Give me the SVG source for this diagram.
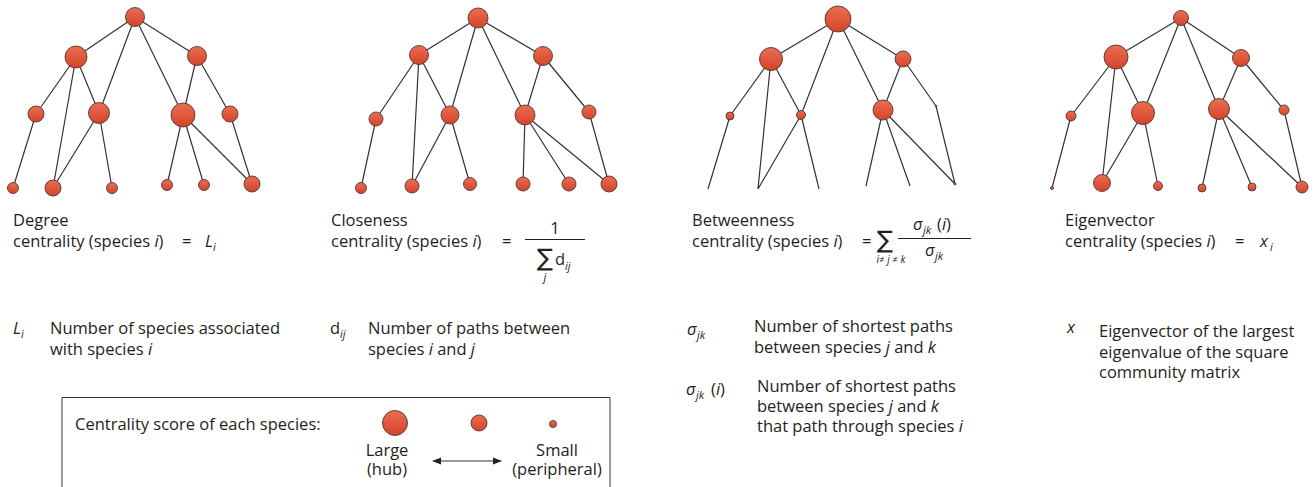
<svg xmlns="http://www.w3.org/2000/svg" width="1314" height="487" viewBox="0 0 1314 487">
<defs>
<linearGradient id="ng" x1="0" y1="0" x2="0" y2="1">
<stop offset="0" stop-color="#ea6e52"/>
<stop offset="1" stop-color="#d5432a"/>
</linearGradient>
<marker id="ah" viewBox="0 0 10 10" refX="9" refY="5" markerWidth="9" markerHeight="9" markerUnits="userSpaceOnUse" orient="auto-start-reverse">
<path d="M0,1 L10,5 L0,9 z" fill="#222"/>
</marker>
<style>
.n{fill:url(#ng);stroke:#4e3a33;stroke-width:0.9}
.e{stroke:#333;stroke-width:1.2;fill:none}
.t{font-family:"Open Sans","Liberation Sans",sans-serif;font-size:16.5px;fill:#231f20}
.i{font-style:italic}
.s{font-size:11px}
.sum{font-family:"DejaVu Sans","Liberation Sans",sans-serif;font-size:24px;fill:#231f20;font-weight:normal}
</style>
</defs>
<rect width="1314" height="487" fill="#fff"/>
<g id="connectors">
<!-- tree 1 -->
<path class="e" d="M135,17L76,57M135,17L197,56M135,17L99,113M135,17L183,115M76,57L36,114M76,57L53,188M76,57L99,113M197,56L183,115M197,56L230,114M36,114L13,188M99,113L53,188M99,113L112,188M183,115L167,185M183,115L204,185M183,115L252,184M230,114L252,184"/>
<!-- tree 2 -->
<path class="e" d="M478,18L419,55M478,18L543,56M478,18L450,115M478,18L525,115M419,55L376,119M419,55L412,186M419,55L450,115M543,56L525,115M543,56L589,112M376,119L361,188M450,115L412,186M450,115L470,184M525,115L523,184M525,115L569,184M525,115L609,184M589,112L609,184"/>
<!-- tree 3 -->
<path class="e" d="M838,19L771,59M838,19L903,59M838,19L801,115M838,19L883,110M771,59L730,116M771,59L758,189M771,59L801,115M903,59L883,110M903,59L936,106M730,116L708,189M801,115L758,189M801,115L819,189M883,110L866,186M883,110L910,186M883,110L955,184M936,106L955,184"/>
<!-- tree 4 -->
<path class="e" d="M1181,18L1116,57M1181,18L1241,58M1181,18L1143,113M1181,18L1219,109M1116,57L1071,116M1116,57L1102,183M1116,57L1143,113M1241,58L1219,109M1241,58L1284,110M1071,116L1052,188M1143,113L1102,183M1143,113L1158,186M1219,109L1202,188M1219,109L1252,187M1219,109L1302,187M1284,110L1302,187"/>
<!-- legend arrow -->
<line class="e" x1="433" y1="461" x2="501" y2="461" stroke="#222" marker-start="url(#ah)" marker-end="url(#ah)"/>
</g>
<g id="tree1">
<g id="t1-n0"><circle class="n" cx="135" cy="17" r="9.5"/></g>
<g id="t1-a"><circle class="n" cx="76" cy="57" r="11"/></g>
<g id="t1-b"><circle class="n" cx="197" cy="56" r="9.5"/></g>
<g id="t1-c"><circle class="n" cx="36" cy="114" r="8"/></g>
<g id="t1-d"><circle class="n" cx="99" cy="113" r="10.5"/></g>
<g id="t1-e"><circle class="n" cx="183" cy="115" r="12"/></g>
<g id="t1-f"><circle class="n" cx="230" cy="114" r="8"/></g>
<g id="t1-g"><circle class="n" cx="13" cy="188" r="5.5"/></g>
<g id="t1-h"><circle class="n" cx="53" cy="188" r="8"/></g>
<g id="t1-i"><circle class="n" cx="112" cy="188" r="5.5"/></g>
<g id="t1-j"><circle class="n" cx="167" cy="185" r="5.5"/></g>
<g id="t1-k"><circle class="n" cx="204" cy="185" r="5.5"/></g>
<g id="t1-l"><circle class="n" cx="252" cy="184" r="8"/></g>
</g>
<g id="tree2">
<g id="t2-n0"><circle class="n" cx="478" cy="18" r="10"/></g>
<g id="t2-a"><circle class="n" cx="419" cy="55" r="9.5"/></g>
<g id="t2-b"><circle class="n" cx="543" cy="56" r="9.5"/></g>
<g id="t2-c"><circle class="n" cx="376" cy="119" r="7"/></g>
<g id="t2-d"><circle class="n" cx="450" cy="115" r="9"/></g>
<g id="t2-e"><circle class="n" cx="525" cy="115" r="10"/></g>
<g id="t2-f"><circle class="n" cx="589" cy="112" r="7"/></g>
<g id="t2-g"><circle class="n" cx="361" cy="188" r="5.5"/></g>
<g id="t2-h"><circle class="n" cx="412" cy="186" r="7"/></g>
<g id="t2-i"><circle class="n" cx="470" cy="184" r="6.5"/></g>
<g id="t2-j"><circle class="n" cx="523" cy="184" r="7"/></g>
<g id="t2-k"><circle class="n" cx="569" cy="184" r="7"/></g>
<g id="t2-l"><circle class="n" cx="609" cy="184" r="8"/></g>
</g>
<g id="tree3">
<g id="t3-n0"><circle class="n" cx="838" cy="19" r="13"/></g>
<g id="t3-a"><circle class="n" cx="771" cy="59" r="11.5"/></g>
<g id="t3-b"><circle class="n" cx="903" cy="59" r="8"/></g>
<g id="t3-c"><circle class="n" cx="730" cy="116" r="4"/></g>
<g id="t3-d"><circle class="n" cx="801" cy="115" r="4.5"/></g>
<g id="t3-e"><circle class="n" cx="883" cy="110" r="10"/></g>
<g id="t3-f"><circle class="n" cx="936" cy="106" r="0.9"/></g>
<g id="t3-l"><circle class="n" cx="955" cy="184" r="1"/></g>
</g>
<g id="tree4">
<g id="t4-n0"><circle class="n" cx="1181" cy="18" r="7.5"/></g>
<g id="t4-a"><circle class="n" cx="1116" cy="57" r="12"/></g>
<g id="t4-b"><circle class="n" cx="1241" cy="58" r="8.5"/></g>
<g id="t4-c"><circle class="n" cx="1071" cy="116" r="5"/></g>
<g id="t4-d"><circle class="n" cx="1143" cy="113" r="11.5"/></g>
<g id="t4-e"><circle class="n" cx="1219" cy="109" r="10.5"/></g>
<g id="t4-f"><circle class="n" cx="1284" cy="110" r="5"/></g>
<g id="t4-g"><circle class="n" cx="1052" cy="188" r="1.5"/></g>
<g id="t4-h"><circle class="n" cx="1102" cy="183" r="8.5"/></g>
<g id="t4-i"><circle class="n" cx="1158" cy="186" r="4.5"/></g>
<g id="t4-j"><circle class="n" cx="1202" cy="188" r="4"/></g>
<g id="t4-k"><circle class="n" cx="1252" cy="187" r="4"/></g>
<g id="t4-l"><circle class="n" cx="1302" cy="187" r="6"/></g>
</g>
<g id="degree">
<text class="t" x="13" y="226">Degree</text>
<text class="t" x="13" y="247">centrality (species <tspan class="i">i</tspan>)</text>
<text class="t" x="182" y="247">=</text>
<text class="t i" x="205" y="247">L</text><text class="t i s" x="213" y="251">i</text>
<text class="t i" x="13" y="334">L</text><text class="t i s" x="21" y="338">i</text>
<text class="t" x="50" y="334">Number of species associated</text>
<text class="t" x="50" y="355">with species <tspan class="i">i</tspan></text>
</g>
<g id="closeness">
<text class="t" x="331" y="226">Closeness</text>
<text class="t" x="331" y="247">centrality (species <tspan class="i">i</tspan>)</text>
<text class="t" x="502" y="247">=</text>
<text class="t" x="555" y="234" text-anchor="middle">1</text>
<line x1="525" y1="239.5" x2="585" y2="239.5" stroke="#231f20" stroke-width="1"/>
<text class="sum" x="545" y="266" text-anchor="middle">∑</text>
<text class="t" x="555" y="265">d</text><text class="t i s" x="565" y="270">ij</text>
<text class="t i s" x="545" y="281" text-anchor="middle">j</text>
<text class="t" x="330" y="334">d</text><text class="t i s" x="340" y="338">ij</text>
<text class="t" x="368" y="334">Number of paths between</text>
<text class="t" x="368" y="355">species <tspan class="i">i</tspan> and <tspan class="i">j</tspan></text>
</g>
<g id="betweenness">
<text class="t" x="692" y="226">Betweenness</text>
<text class="t" x="692" y="247">centrality (species <tspan class="i">i</tspan>)</text>
<text class="t" x="862" y="247">=</text>
<text class="sum" x="885" y="248" text-anchor="middle">∑</text>
<text class="t i" x="891" y="263" text-anchor="middle" style="font-size:10px">i≠ j ≠ k</text>
<line x1="898" y1="238.5" x2="971" y2="238.5" stroke="#231f20" stroke-width="1"/>
<text class="t i" x="913" y="230">σ</text><text class="t i s" x="923" y="234">jk</text><text class="t" x="937" y="230">(<tspan class="i">i</tspan>)</text>
<text class="t i" x="925" y="256">σ</text><text class="t i s" x="935" y="260">jk</text>
<text class="t i" x="687" y="335">σ</text><text class="t i s" x="697" y="339">jk</text>
<text class="t" x="754" y="332">Number of shortest paths</text>
<text class="t" x="754" y="353">between species <tspan class="i">j</tspan> and <tspan class="i">k</tspan></text>
<text class="t i" x="686" y="395">σ</text><text class="t i s" x="696" y="399">jk</text><text class="t" x="711" y="395">(<tspan class="i">i</tspan>)</text>
<text class="t" x="757" y="392">Number of shortest paths</text>
<text class="t" x="757" y="412">between species <tspan class="i">j</tspan> and <tspan class="i">k</tspan></text>
<text class="t" x="757" y="432">that path through species <tspan class="i">i</tspan></text>
</g>
<g id="eigenvector">
<text class="t" x="1065" y="226">Eigenvector</text>
<text class="t" x="1065" y="247">centrality (species <tspan class="i">i</tspan>)</text>
<text class="t" x="1235" y="247">=</text>
<text class="t i" x="1260" y="247">x</text><text class="t i s" x="1270" y="251">i</text>
<text class="t i" x="1067" y="333">x</text>
<text class="t" x="1099" y="337">Eigenvector of the largest</text>
<text class="t" x="1099" y="358">eigenvalue of the square</text>
<text class="t" x="1099" y="378">community matrix</text>
</g>
<g id="legend">
<path d="M62,490V397.5H610V490" fill="none" stroke="#333" stroke-width="1"/>
<text class="t" x="75" y="430">Centrality score of each species:</text>
<circle class="n" cx="395" cy="423" r="12.5"/>
<circle class="n" cx="479" cy="423" r="8"/>
<circle class="n" cx="553" cy="424" r="3.5"/>
<text class="t" x="387" y="456" text-anchor="middle">Large</text>
<text class="t" x="387" y="475" text-anchor="middle">(hub)</text>
<text class="t" x="557" y="456" text-anchor="middle">Small</text>
<text class="t" x="557" y="475" text-anchor="middle">(peripheral)</text>
</g>
</svg>
